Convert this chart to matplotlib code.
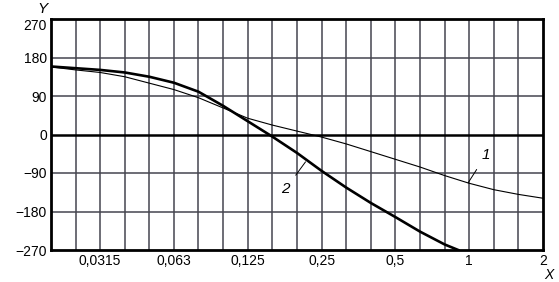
import matplotlib
matplotlib.use("Agg")
import matplotlib.pyplot as plt
from matplotlib.transforms import ScaledTranslation

plt.rcParams['font.family'] = ['Liberation Sans', 'DejaVu Sans']

# third-octave grid positions along X
x_pts = [0.0197, 0.0248, 0.03125, 0.0394, 0.0496, 0.0625, 0.0787, 0.0992,
         0.125, 0.1575, 0.1984, 0.25, 0.315, 0.397, 0.5, 0.63, 0.794,
         1.0, 1.26, 1.587, 2.0]

# curve 1 (thin)
y1 = [158, 151, 145, 135, 120, 105, 86, 62, 38, 22, 8, -6, -22,
      -40, -58, -76, -96, -114, -129, -140, -149]

# curve 2 (thick)
x2 = [0.0197, 0.0248, 0.03125, 0.0394, 0.0496, 0.0625, 0.0787, 0.0992,
      0.125, 0.1575, 0.1984, 0.25, 0.315, 0.397, 0.5, 0.63, 0.794, 0.902]
y2 = [159, 155, 151, 145, 135, 121, 100, 67, 31, -5, -43, -85, -124,
      -160, -193, -227, -257, -270]

xtick_vals = [0.03125, 0.0625, 0.125, 0.25, 0.5, 1, 2]
xtick_labels = ["0,0315", "0,063", "0,125", "0,25", "0,5", "1", "2"]
ytick_vals = [-270, -180, -90, 0, 90, 180, 270]

fig = plt.figure(figsize=(5.59, 2.82), dpi=100)
ax = fig.add_axes([51/559, 1-250/282, 492/559, 231/282])

ax.set_xscale('log', base=2)
ax.set_xlim(x_pts[0], 2.0)
ax.set_ylim(-270, 270)

# grid
for xv in x_pts[1:-1]:
    ax.axvline(xv, color='#45454f', lw=1.1, zorder=1)
for yv in ytick_vals[1:-1]:
    if yv == 0:
        ax.axhline(0, color='black', lw=1.8, zorder=2)
    else:
        ax.axhline(yv, color='#45454f', lw=1.1, zorder=1)

ax.plot(x_pts, y1, color='black', lw=0.8, zorder=3)
ax.plot(x2, y2, color='black', lw=1.9, zorder=3, solid_joinstyle='round')

ax.set_xticks(xtick_vals)
ax.set_xticklabels(xtick_labels)
ax.minorticks_off()
ax.set_yticks(ytick_vals)
ax.tick_params(length=0, labelsize=10, pad=3)

# top y label sits a little below the frame line
top_lbl = ax.get_yticklabels()[-1]
top_lbl.set_transform(top_lbl.get_transform() +
                      ScaledTranslation(0, -5/100, fig.dpi_scale_trans))

for s in ax.spines.values():
    s.set_linewidth(2.0)
    s.set_color('black')

ax.annotate("1", xy=(0.99, -113), xytext=(1.17, -48), fontsize=11,
            style='italic', ha='center', va='center',
            arrowprops=dict(arrowstyle='-', lw=0.7, color='black',
                            shrinkA=4, shrinkB=0))
ax.annotate("2", xy=(0.215, -64), xytext=(0.178, -128), fontsize=11,
            style='italic', ha='center', va='center',
            arrowprops=dict(arrowstyle='-', lw=0.7, color='black',
                            shrinkA=4, shrinkB=0))

ax.text(-0.018, 1.045, "Y", transform=ax.transAxes, fontsize=11,
        style='italic', ha='center', va='center')
ax.text(1.012, -0.108, "X", transform=ax.transAxes, fontsize=10,
        style='italic', ha='center', va='center')

fig.savefig("out.png", dpi=100)
